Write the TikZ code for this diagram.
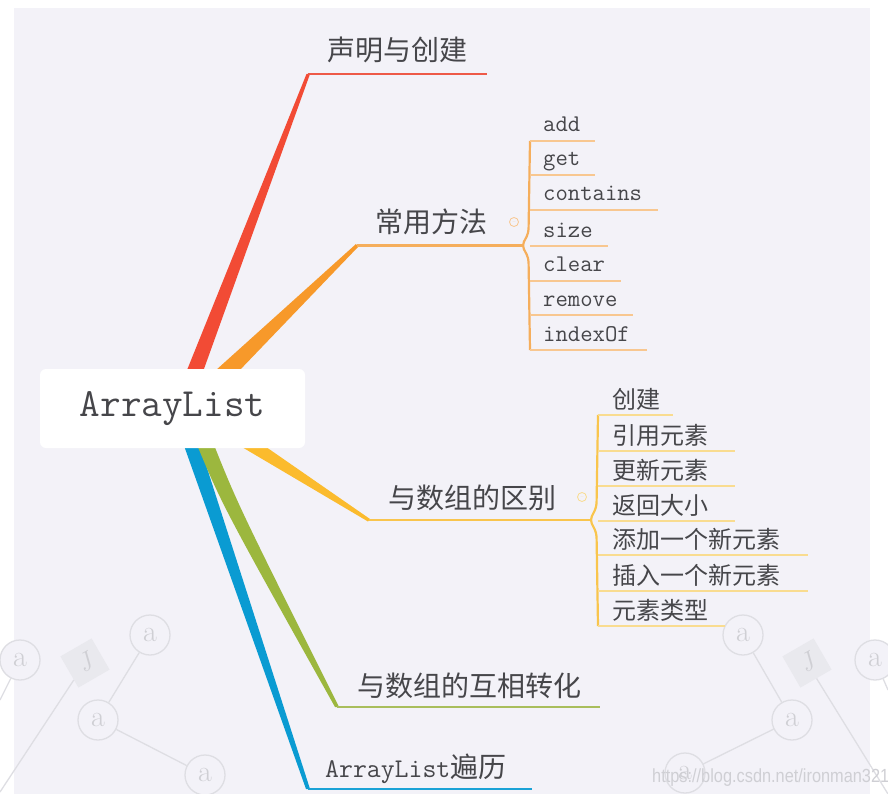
\documentclass[tikz,border=0pt]{standalone}
\usepackage{fontspec}
\newfontfamily\cjk{Noto Sans CJK SC}
\newfontfamily\urlfont{Liberation Sans}
\definecolor{bg}{HTML}{F3F2F8}
\definecolor{txt}{HTML}{46464A}
\definecolor{cred}{HTML}{F24B35}
\definecolor{credl}{HTML}{EE5A48}
\definecolor{corange}{HTML}{F7992A}
\definecolor{corangel}{HTML}{F5AE5C}
\definecolor{corangec}{HTML}{F8C790}
\definecolor{cyellow}{HTML}{FBBB2D}
\definecolor{cyellowl}{HTML}{F9C54D}
\definecolor{cyellowc}{HTML}{F9DC90}
\definecolor{cgreen}{HTML}{9CB73E}
\definecolor{cgreenl}{HTML}{A9BE5C}
\definecolor{cblue}{HTML}{0A9BD2}
\definecolor{cbluel}{HTML}{1AA2D6}
\definecolor{wmline}{HTML}{DEDEE3}
\definecolor{wmtext}{HTML}{CFCFD4}
\definecolor{wmfill}{HTML}{E9E9EE}
\begin{document}
\begin{tikzpicture}[x=1pt,y=-1pt,
  lbl/.style={font=\cjk\fontsize{28}{30}\selectfont, text=txt, inner sep=0pt, anchor=base west},
  sublbl/.style={font=\cjk\fontsize{24}{26}\selectfont, text=txt, inner sep=0pt, anchor=base west},
  codelbl/.style={font=\ttfamily\fontsize{24}{26}\selectfont, text=txt, inner sep=0pt, anchor=base west},
  wmcirc/.style={circle, draw=wmline, line width=1.3pt, minimum size=40pt, inner sep=0pt,
     fill=bg, font=\fontsize{30}{30}\selectfont, text=wmtext},
  wmdia/.style={rectangle, fill=wmfill, minimum size=36pt, inner sep=0pt, rotate=30,
     font=\itshape\fontsize{26}{26}\selectfont, text=wmtext},
  wmedge/.style={draw=wmline, line width=1.3pt},
  hline/.style={line width=2.6pt},
  childline/.style={line width=1.8pt},
  bracket/.style={line width=2.2pt, rounded corners=4pt},
  collapse/.style={circle, draw, line width=0.8pt, minimum size=9pt, inner sep=0pt},
]
\useasboundingbox (0,0) rectangle (888,794);
% background
\fill[white] (0,0) rectangle (888,794);
\fill[bg] (14,8) rectangle (870,794);

% ---- watermark decorations ----
\node[wmcirc] (wa) at (20,660) {a};
\node[wmcirc] (wb) at (150,635) {a};
\node[wmcirc] (wc) at (98,720) {a};
\node[wmcirc] (wd) at (205,775) {a};
\node[wmdia] (we) at (85,663) {J};
\coordinate (we2) at (0,792);
\coordinate (wa2) at (0,700);
\draw[wmedge] (wb) -- (wc);
\draw[wmedge] (wc) -- (wd);
\draw[wmedge] (we) -- (we2);
\draw[wmedge] (wa) -- (wa2);
\node[wmcirc] (wf) at (743,635) {a};
\node[wmcirc] (wg) at (792,720) {a};
\node[wmcirc] (wh) at (685,773) {a};
\node[wmcirc] (wi) at (875,660) {a};
\node[wmdia] (wk) at (807,663) {J};
\coordinate (wk2) at (888,794);
\coordinate (wi2) at (888,690);
\draw[wmedge] (wf) -- (wg);
\draw[wmedge] (wg) -- (wh);
\draw[wmedge] (wk) -- (wk2);
\draw[wmedge] (wi) -- (wi2);

% ---- coordinates of the branches ----
\coordinate (rT) at (308,74);   \coordinate (rE) at (487,74);
\coordinate (oT) at (357,245.5); \coordinate (oJ) at (522,245.5);
\coordinate (yT) at (369,520);  \coordinate (yJ) at (590,520);
\coordinate (gT) at (337,707);  \coordinate (gE) at (600,707);
\coordinate (bT) at (308,789);  \coordinate (bE) at (532,789);

% blue
\fill[cblue] (182,440) -- (198,440) -- (310,789) -- (306,789) -- cycle;
\draw[hline, cbluel] (bT) -- (bE);
% green
\fill[cgreen] (195,440) .. controls (222,505) .. (335,707) -- (339,707)
   .. controls (238,505) .. (212,440) -- cycle;
\draw[hline, cgreenl] (gT) -- (gE);
% yellow
\fill[cyellow] (230,440) -- (256,440) -- (370,519) -- (368,521.5) -- cycle;
\draw[hline, cyellowl] (yT) -- (yJ);
% red
\fill[cred] (183,380) -- (200,380) -- (310,74) -- (306.5,74) -- cycle;
\draw[hline, credl] (rT) -- (rE);
% orange
\fill[corange] (205,380) -- (238,372) -- (358,247) -- (356,244) -- cycle;
\draw[hline, corangel] (oT) -- (oJ);

% ---- root node ----
\node[fill=white, rounded corners=6pt, minimum width=265pt, minimum height=79pt,
      inner sep=0pt, font=\ttfamily\fontsize{40}{40}\selectfont, text=txt]
      (root) at (172.5,408.5) {ArrayList};

% ---- main labels ----
\node[lbl] (l1) at (327,61) {声明与创建};
\node[lbl] (l2) at (375,233) {常用方法};
\node[lbl] (l3) at (388,508) {与数组的区别};
\node[lbl] (l4) at (357,696) {与数组的互相转化};
\node[lbl] (l5) at (325,777) {{\ttfamily\fontsize{27}{30}\selectfont ArrayList}遍历};

% ---- orange sub-branch ----
\draw[bracket, corangel] (530,141) -- (528.5,233) -- (oJ) -- (528.5,258) -- (530,350);
\foreach \yy/\xe/\t/\n in {141/595/add/oa, 175/595/get/ob, 210/658/contains/oc,
    246/608/size/od, 281/621/clear/oe, 315/633/remove/of, 350/647/indexOf/og}{
  \coordinate (\n s) at (530,\yy);
  \coordinate (\n e) at (\xe,\yy);
  \draw[childline, corangec] (\n s) -- (\n e);
  \node[codelbl] (\n) at (543,\yy-9) {\t};
}
\node[collapse, draw=corangec, text=corangec] (oc1) at (514,222) {\scalebox{0.5}{$-$}};

% ---- yellow sub-branch ----
\draw[bracket, cyellowl] (598,415) -- (596.5,507) -- (yJ) -- (596.5,533) -- (598,626);
\foreach \yy/\xe/\t/\n in {415/673/创建/ya, 451/735/引用元素/yb, 486/735/更新元素/yc,
    521/735/返回大小/yd, 555/808/添加一个新元素/ye, 591/808/插入一个新元素/yf, 626/725/元素类型/yg}{
  \coordinate (\n s) at (598,\yy);
  \coordinate (\n e) at (\xe,\yy);
  \draw[childline, cyellowc] (\n s) -- (\n e);
  \node[sublbl] (\n) at (612,\yy-7) {\t};
}
\node[collapse, draw=cyellowc, text=cyellowc] (yc1) at (582,497) {\scalebox{0.5}{$-$}};

% ---- url watermark ----
\node[anchor=base west, inner sep=0pt, text=wmtext, xscale=0.86,
      font=\urlfont\fontsize{19}{19}\selectfont] (url) at (652,782) {https://blog.csdn.net/ironman321};
\end{tikzpicture}
\end{document}
